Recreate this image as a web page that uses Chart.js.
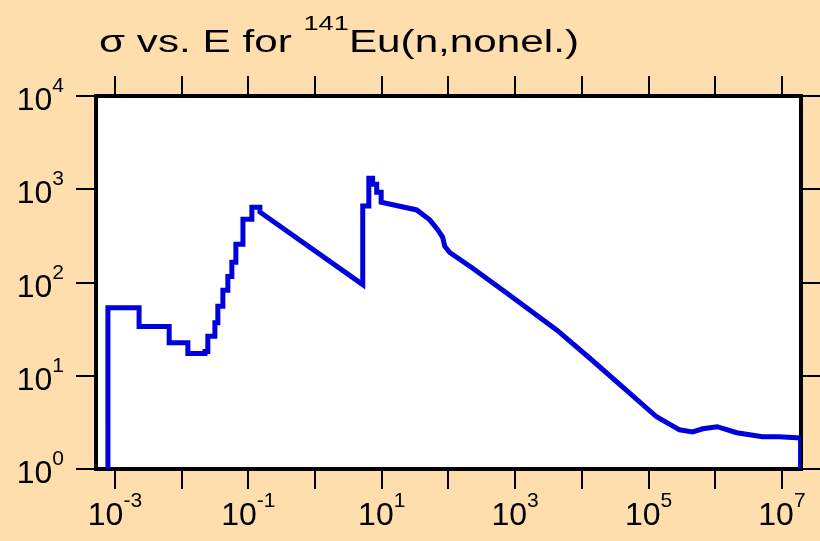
<!DOCTYPE html>
<html>
<head>
<meta charset="utf-8">
<script src="https://cdn.jsdelivr.net/npm/chart.js@4.4.1/dist/chart.umd.min.js"></script>
<style>
  html, body { margin:0; padding:0; background:#FFDEAD; }
  canvas { display:block; }
</style>
</head>
<body>
<canvas id="xsChart" width="820" height="541"></canvas>
<script>
// neutron energy (eV) and cross section (b)
const energy = [
  7.85e-4, 7.85e-4, 2.3e-3, 2.3e-3, 6.5e-3, 6.5e-3, 0.0124, 0.0124, 0.0224, 0.0224,
  0.0247, 0.0247, 0.0315, 0.0315, 0.0349, 0.0349, 0.0415, 0.0415, 0.0493, 0.0493,
  0.0566, 0.0566, 0.065, 0.065, 0.083, 0.083, 0.113, 0.113, 0.149, 0.149,
  5.19, 5.19, 6.4, 6.4, 7.3, 7.3, 8.4, 8.4, 9.8, 9.8,
  33.4, 52.4, 69, 82, 88, 104.5, 231, 746, 4190, 13060,
  40700, 131800, 291000, 457000, 6.5e5, 1.07e6, 2.1e6, 5.1e6, 9.1e6, 1.9e7, 1.9e7
];
const sigma = [
  1, 53.5, 53.5, 33.7, 33.7, 22.6, 22.6, 17.3, 17.3, 18.2,
  18.2, 26.5, 26.5, 37, 37, 55.6, 55.6, 82.6, 82.6, 116,
  116, 165, 165, 257, 257, 476, 476, 640, 640, 570,
  95, 660, 660, 1313, 1313, 1130, 1130, 930, 930, 725,
  600, 470, 368, 305, 245, 210, 142, 77, 31, 15.5,
  7.6, 3.63, 2.63, 2.5, 2.7, 2.84, 2.45, 2.22, 2.22, 2.15, 1
];

const xDecades = [-3, -2, -1, 0, 1, 2, 3, 4, 5, 6, 7];
const xLabelExps = [-3, -1, 1, 3, 5, 7];
const yDecades = [0, 1, 2, 3, 4];

const FONT = '"Liberation Sans", Arial, sans-serif';
const BG = '#FFDEAD';

const points = energy.map((e, i) => ({x: e, y: sigma[i]}));

function decadeTicks(list) {
  return axis => { axis.ticks = list.map(e => ({value: Math.pow(10, e)})); };
}

function axisOpts(pos, decades, len) {
  return {
    type: 'logarithmic',
    position: pos,
    afterBuildTicks: decadeTicks(decades),
    ticks: {display: false},
    grid: {drawOnChartArea: false, drawTicks: true, tickLength: len, tickWidth: 2,
           tickColor: '#000', lineWidth: 4, color: '#000'},
    border: {display: true, color: '#000', width: 4}
  };
}

const frame = {
  id: 'frame',
  beforeDraw(chart) {
    const {ctx, chartArea: a} = chart;
    ctx.save();
    ctx.fillStyle = BG;
    ctx.fillRect(0, 0, chart.width, chart.height);
    ctx.fillStyle = '#fff';
    ctx.fillRect(a.left, a.top, a.right - a.left, a.bottom - a.top);
    ctx.restore();
  },
  afterDraw(chart) {
    const ctx = chart.ctx;
    const xs = chart.scales.x, ys = chart.scales.y;
    ctx.save();
    ctx.fillStyle = '#000';
    ctx.textBaseline = 'alphabetic';

    // powers of ten on the axes
    const big = '32px ' + FONT, small = '21px ' + FONT;
    function pow10(exp, x, y, align) {
      ctx.font = big;
      const w1 = ctx.measureText('10').width;
      ctx.font = small;
      const w2 = ctx.measureText(String(exp)).width;
      let x0 = align === 'right' ? x - w1 - w2 : x - (w1 + w2) / 2;
      ctx.font = big;
      ctx.fillText('10', x0, y);
      ctx.font = small;
      ctx.fillText(String(exp), x0 + w1, y - 18);
    }
    xLabelExps.forEach(e => pow10(e, xs.getPixelForValue(Math.pow(10, e)), 525, 'center'));
    yDecades.forEach(e => pow10(e, 64, ys.getPixelForValue(Math.pow(10, e)) + 14, 'right'));

    // title with superscript mass number
    const t1 = '\u03c3 vs. E for ', t2 = '141', t3 = 'Eu(n,nonel.)';
    const tBig = '31px ' + FONT, tSmall = '20px ' + FONT;
    ctx.font = tBig;
    const a1 = ctx.measureText(t1).width, a3 = ctx.measureText(t3).width;
    ctx.font = tSmall;
    const a2 = ctx.measureText(t2).width;
    const sx = 480 / (a1 + a2 + a3);
    ctx.translate(99, 52);
    ctx.scale(sx, 1);
    ctx.font = tBig;
    ctx.fillText(t1, 0, 0);
    ctx.font = tSmall;
    ctx.fillText(t2, a1, -22);
    ctx.font = tBig;
    ctx.fillText(t3, a1 + a2, 0);
    ctx.restore();
  }
};

new Chart(document.getElementById('xsChart'), {
  type: 'line',
  data: {
    datasets: [{
      data: points,
      borderColor: '#0000dd',
      borderWidth: 5,
      pointRadius: 0,
      tension: 0,
      borderJoinStyle: 'miter',
      fill: false
    }]
  },
  options: {
    responsive: false,
    animation: false,
    events: [],
    layout: {padding: {left: 76, right: 0, top: 76, bottom: 52}},
    plugins: {legend: {display: false}, title: {display: false}, tooltip: {enabled: false}},
    scales: {
      x: Object.assign(axisOpts('bottom', xDecades, 20), {min: 5.2e-4, max: 1.93e7}),
      xTop: Object.assign(axisOpts('top', xDecades, 20), {min: 5.2e-4, max: 1.93e7}),
      y: Object.assign(axisOpts('left', yDecades, 20), {min: 1, max: 1e4}),
      yRight: Object.assign(axisOpts('right', yDecades, 19), {min: 1, max: 1e4})
    }
  },
  plugins: [frame]
});
</script>
</body>
</html>
